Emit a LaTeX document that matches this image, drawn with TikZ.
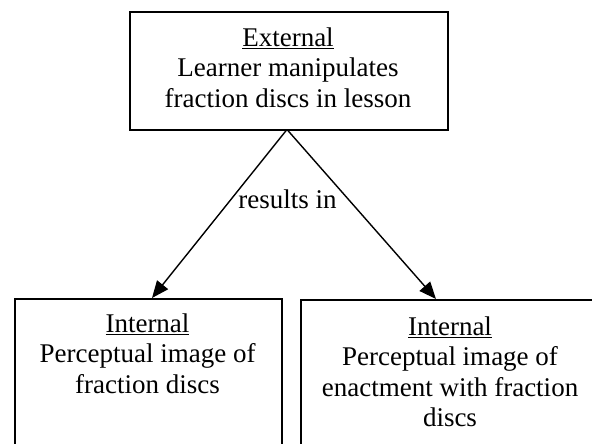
\documentclass[tikz,border=0pt]{standalone}
\usepackage{fontspec}
\setmainfont{Liberation Serif}
\usetikzlibrary{arrows.meta}
\begin{document}
\begin{tikzpicture}[x=1pt,y=-1pt,
  box/.style={draw=black,line width=1.7pt,inner sep=0pt,anchor=north west},
  txt/.style={align=center,inner sep=0pt,anchor=north,font=\fontsize{27}{30.5}\selectfont},
  arr/.style={line width=1.4pt,-{Triangle[length=17pt,width=14pt]}}]
\useasboundingbox (0,0) rectangle (592,444);
\clip (0,0) rectangle (592,444);
\fill[white] (0,0) rectangle (592,444);
% boxes
\node[box,minimum width=318pt,minimum height=117.5pt] (ext) at (129,11.5) {};
\node[box,minimum width=267pt,minimum height=170pt] (left) at (14,298) {};
\node[box,minimum width=300pt,minimum height=170pt] (right) at (300,299) {};
% texts
\node[txt] (exttext) at (288,27.5) {\underline{External}\\Learner manipulates\\fraction discs in lesson};
\node[txt] (lefttext) at (147.5,313.5) {\underline{Internal}\\Perceptual image of\\fraction discs};
\node[txt] (righttext) at (450,316.5) {\underline{Internal}\\Perceptual image of\\enactment with fraction\\discs};
% connectors
\coordinate (apex) at (287,129.5);
\coordinate (tipL) at (152,298);
\coordinate (tipR) at (436,299);
\draw[arr] (apex) -- (tipL);
\draw[arr] (apex) -- (tipR);
\node[anchor=base,inner sep=0pt,font=\fontsize{27}{30.5}\selectfont] (lbl) at (287.5,208) {results in};
\end{tikzpicture}
\end{document}
